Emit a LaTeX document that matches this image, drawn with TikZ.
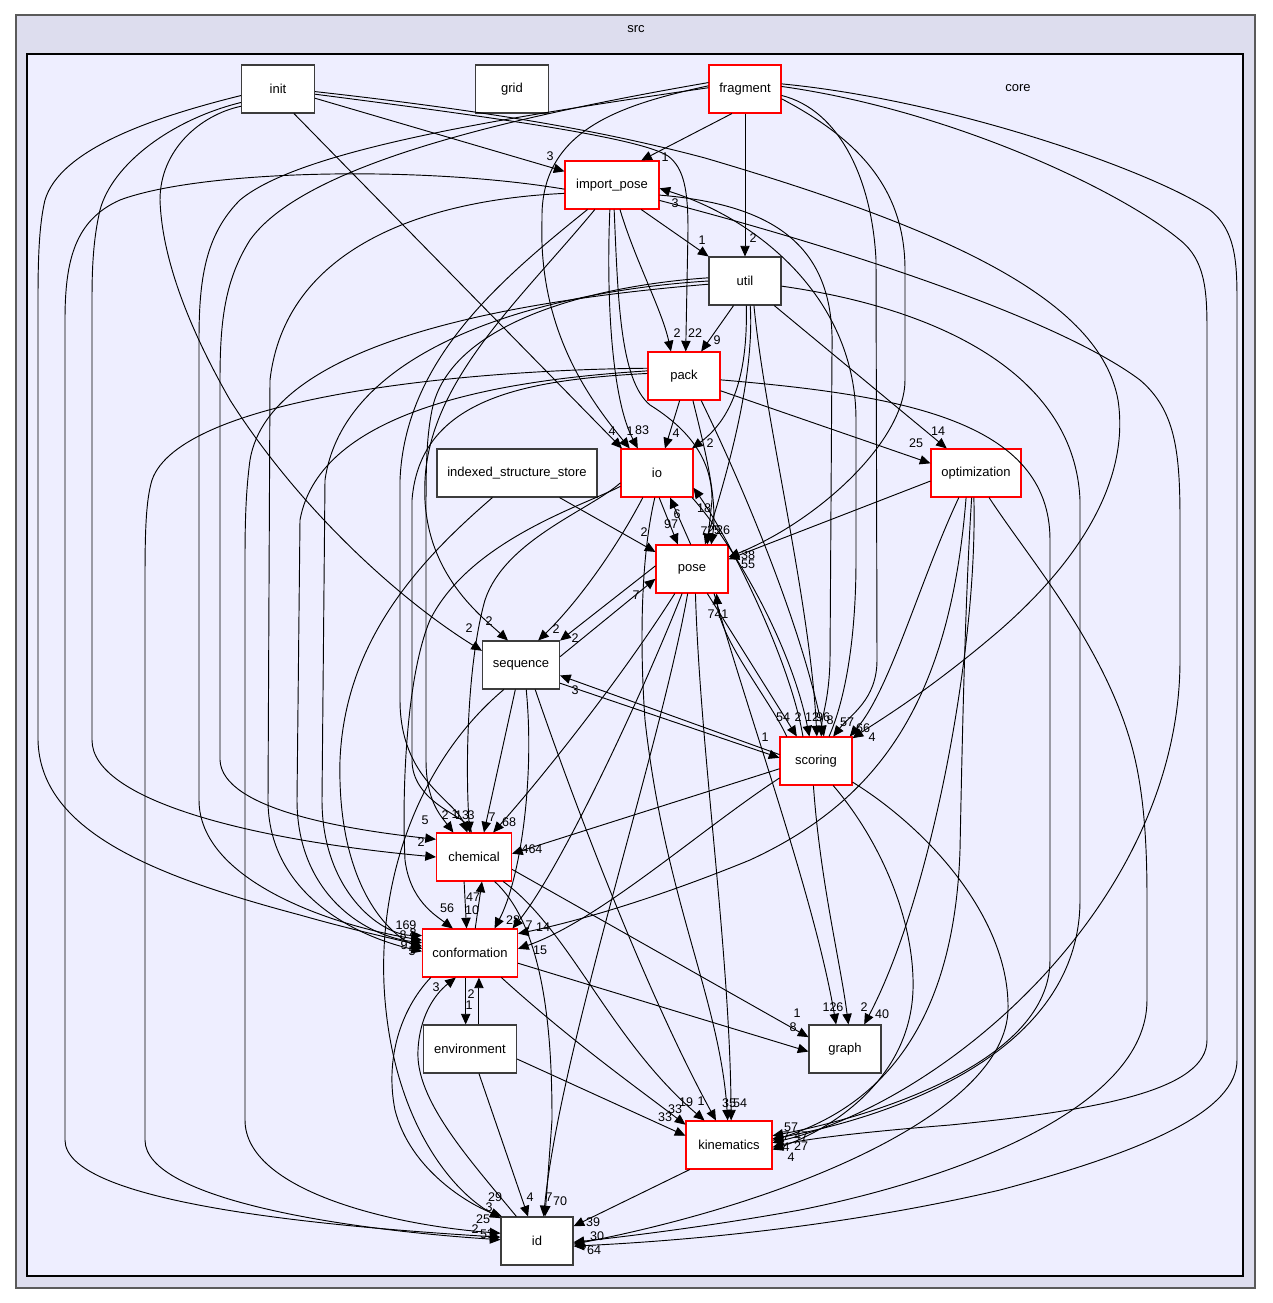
\documentclass[tikz,border=0pt]{standalone}
\usepackage{fontspec}
\setmainfont{Liberation Sans}
\usetikzlibrary{arrows.meta}
\definecolor{srcfill}{RGB}{221,221,238}
\definecolor{corefill}{RGB}{238,238,255}
\definecolor{srcline}{RGB}{90,90,90}
\definecolor{boxline}{RGB}{60,60,60}
\definecolor{boxred}{RGB}{255,0,0}
\tikzset{
    dirbox/.style={draw=boxline, fill=white, line width=0.8pt, rectangle, minimum height=36pt, minimum width=54pt, inner sep=2pt, font=\fontsize{9.75}{11}\selectfont},
    reddirbox/.style={dirbox, draw=boxred, line width=0.8pt},
    dep/.style={-{Triangle[length=8pt,width=7pt]}, line width=0.7pt},
    lbl/.style={inner sep=0pt, font=\fontsize{9.4}{10}\selectfont},
    clusterlabel/.style={inner sep=0pt, font=\fontsize{9.75}{11}\selectfont}
}
\begin{document}
\begin{tikzpicture}[x=0.75pt, y=-0.75pt]
      \useasboundingbox (0,0) rectangle (1272,1303);
      \draw[fill=srcfill, draw=srcline, line width=1.3pt] (16,15) rectangle (1255,1288);
      \draw[fill=corefill, draw=black, line width=0.9pt] (27,54) rectangle (1243,1276);
      \node[clusterlabel] (src) at (636,29) {src};
      \node[clusterlabel] (core) at (1018,88) {core};

      \path
          (278,89) node[dirbox, minimum width=54.75pt] (init) {init}
          (512,89) node[dirbox, minimum width=54.75pt] (grid) {grid}
          (745,89) node[reddirbox] (fragment) {fragment}
          (612,185) node[reddirbox, minimum width=70.5pt] (import-pose) {import\_pose}
          (745,281) node[dirbox] (util) {util}
          (684,376) node[reddirbox] (pack) {pack}
          (517,473) node[dirbox, minimum width=120pt] (indexed-store) {indexed\_structure\_store}
          (657,473) node[reddirbox] (io) {io}
          (976,473) node[reddirbox, minimum width=67.5pt] (optimization) {optimization}
          (692,569) node[reddirbox] (pose) {pose}
          (521,665) node[dirbox, minimum width=57.75pt] (sequence) {sequence}
          (816,761) node[reddirbox] (scoring) {scoring}
          (474,857) node[reddirbox, minimum width=56.25pt] (chemical) {chemical}
          (470,953) node[reddirbox, minimum width=71.25pt] (conformation) {conformation}
          (470,1049) node[dirbox, minimum width=69.75pt] (environment) {environment}
          (845,1049) node[dirbox] (graph) {graph}
          (729,1145) node[reddirbox, minimum width=64.5pt] (kinematics) {kinematics}
          (537,1241) node[dirbox] (id) {id};

      \draw[dep] (init.-14) -- (import-pose.164) node[lbl, at={(550,156)}] {3};
      \draw[dep] (init.-57) -- (io.145) node[lbl, at={(612,431)}] {4};
      \draw[dep] (init.-8) .. controls (500,118) and (640,138) .. (668,156) .. controls (684,168) and (688,190) .. (688,230) -- (pack.86) node[lbl, at={(695,333)}] {22};
      \draw[dep] (init.-4) .. controls (480,110) and (600,130) .. (705,158) .. controls (950,230) and (1100,300) .. (1118,400) .. controls (1130,480) and (1080,560) .. (1000,630) .. controls (930,690) and (880,720) .. (scoring.32) node[lbl, at={(872,737)}] {4};
      \draw[dep] (init.190) .. controls (150,118) and (60,150) .. (45,200) .. controls (39,225) and (38,260) .. (38,300) -- (38,740) .. controls (40,830) and (150,875) .. (300,915) .. controls (360,932) and (400,940) .. (conformation.172) node[lbl, at={(406,925)}] {169};
      \draw[dep] (init.200) .. controls (170,120) and (112,165) .. (100,210) .. controls (93,240) and (92,270) .. (92,300) -- (92,740) .. controls (92,800) and (250,840) .. (chemical.180) node[lbl, at={(421,842)}] {2};
      \draw[dep] (init.205) .. controls (200,115) and (160,150) .. (160,200) .. controls (162,260) and (190,330) .. (230,400) .. controls (300,510) and (400,600) .. (sequence.160) node[lbl, at={(469,628)}] {2};

      \draw[dep] (fragment.-118) -- (import-pose.40) node[lbl, at={(665,157)}] {1};
      \draw[dep] (fragment) -- (util) node[lbl, at={(753,238)}] {2};
      \draw[dep] (fragment.175) .. controls (620,105) and (540,130) .. (542,220) .. controls (538,330) and (590,400) .. (io.138) node[lbl, at={(630,431)}] {1};
      \draw[dep] (fragment.178) .. controls (500,118) and (300,150) .. (240,200) .. controls (205,235) and (199,280) .. (199,340) -- (199,800) .. controls (199,880) and (330,925) .. (conformation.165) node[lbl, at={(413,933)}] {8};
      \draw[dep] (fragment.170) .. controls (480,122) and (300,170) .. (250,240) .. controls (225,280) and (220,320) .. (220,380) -- (220,760) .. controls (222,810) and (350,830) .. (chemical.155) node[lbl, at={(425,820)}] {5};
      \draw[dep] (fragment.8) .. controls (950,100) and (1150,170) .. (1210,210) .. controls (1235,230) and (1237,260) .. (1237,300) -- (1237,1060) .. controls (1237,1110) and (1150,1150) .. (1000,1190) .. controls (850,1225) and (700,1240) .. (id.-8) node[lbl, at={(594,1250)}] {64};
      \draw[dep] (fragment.4) .. controls (950,110) and (1120,190) .. (1180,240) .. controls (1205,260) and (1207,290) .. (1207,330) -- (1207,1040) .. controls (1207,1090) and (1100,1110) .. (950,1125) .. controls (850,1133) and (800,1140) .. (kinematics.-3) node[lbl, at={(791,1157)}] {4};
      \draw[dep] (fragment.-10) .. controls (840,110) and (872,180) .. (876,260) -- (877,660) .. controls (877,700) and (850,715) .. (scoring.55) node[lbl, at={(847,722)}] {57};
      \draw[dep] (fragment.-15) .. controls (860,140) and (905,190) .. (905,270) -- (905,380) .. controls (905,440) and (820,520) .. (pose.18) node[lbl, at={(748,564)}] {55};

      \draw[dep] (import-pose.-40) -- (util.146) node[lbl, at={(702,240)}] {1};
      \draw[dep] (import-pose.-72) .. controls (635,260) and (662,310) .. (pack.118) node[lbl, at={(677,333)}] {2};
      \draw[dep] (import-pose.-95) .. controls (606,300) and (612,400) .. (io.128) node[lbl, at={(642,430)}] {83};
      \draw[dep] (import-pose.-85) .. controls (618,300) and (620,380) .. (650,405) .. controls (690,430) and (712,460) .. (712,500) -- (pose.58) node[lbl, at={(704,531)}] {7};
      \draw[dep] (import-pose.-12) .. controls (780,205) and (835,250) .. (832,350) -- (830,660) .. controls (829,700) and (822,715) .. (scoring.78) node[lbl, at={(812,717)}] {12};
      \draw[dep] (import-pose.-18) .. controls (850,250) and (1060,320) .. (1140,380) .. controls (1175,410) and (1180,450) .. (1180,520) -- (1180,660) .. controls (1180,900) and (950,1100) .. (kinematics.3) node[lbl, at={(786,1136)}] {7};
      \draw[dep] (import-pose.185) .. controls (420,165) and (200,170) .. (120,200) .. controls (75,220) and (65,260) .. (65,320) -- (65,1140) .. controls (65,1200) and (300,1225) .. (id.174) node[lbl, at={(483,1219)}] {25};
      \draw[dep] (import-pose.-125) .. controls (520,300) and (430,380) .. (425,480) .. controls (420,570) and (480,615) .. (sequence.118) node[lbl, at={(489,621)}] {2};
      \draw[dep] (import-pose.-135) .. controls (500,280) and (405,360) .. (400,480) -- (400,700) .. controls (400,780) and (455,800) .. (chemical.105) node[lbl, at={(462,815)}] {13};
      \draw[dep] (import-pose.190) .. controls (420,200) and (285,250) .. (270,380) -- (268,800) .. controls (268,890) and (350,935) .. (conformation.178) node[lbl, at={(404,945)}] {9};

      \draw[dep] (util.-115) -- (pack.55) node[lbl, at={(717,340)}] {9};
      \draw[dep] (util.-87) .. controls (748,380) and (730,420) .. (io.35) node[lbl, at={(710,443)}] {2};
      \draw[dep] (util.-40) -- (optimization.140) node[lbl, at={(938,431)}] {14};
      \draw[dep] (util.-78) .. controls (755,380) and (725,480) .. (pose.62) node[lbl, at={(714,530)}] {25};
      \draw[dep] (util.-70) .. controls (765,420) and (810,600) .. (scoring.88) node[lbl, at={(823,717)}] {96};
      \draw[dep] (util.175) .. controls (600,285) and (450,320) .. (432,410) .. controls (426,440) and (426,470) .. (426,520) -- (426,760) .. controls (426,800) and (440,815) .. (chemical.130) node[lbl, at={(445,815)}] {2};
      \draw[dep] (util.180) .. controls (560,290) and (345,340) .. (325,480) -- (322,800) .. controls (322,890) and (380,935) .. (conformation.160) node[lbl, at={(412,951)}] {5};
      \draw[dep] (util.185) .. controls (520,300) and (270,340) .. (250,460) .. controls (246,490) and (245,520) .. (245,560) -- (245,1120) .. controls (245,1190) and (390,1225) .. (id.168) node[lbl, at={(475,1229)}] {2};
      \draw[dep] (util.-8) .. controls (950,310) and (1075,380) .. (1080,500) -- (1080,900) .. controls (1080,1050) and (900,1115) .. (kinematics.8) node[lbl, at={(791,1127)}] {57};

      \draw[dep] (pack.-100) -- (io.72) node[lbl, at={(676,433)}] {4};
      \draw[dep] (pack.-22) -- (optimization.168) node[lbl, at={(916,443)}] {25};
      \draw[dep] (pack.-70) .. controls (705,450) and (718,500) .. (pose.52) node[lbl, at={(723,530)}] {26};
      \draw[dep] (pack.-55) .. controls (740,480) and (800,620) .. (scoring.72) node[lbl, at={(830,720)}] {8};
      \draw[dep] (pack.176) .. controls (520,380) and (420,400) .. (412,500) -- (412,760) .. controls (412,800) and (460,815) .. (chemical.95) node[lbl, at={(471,815)}] {3};
      \draw[dep] (pack.172) .. controls (500,380) and (320,410) .. (300,520) -- (297,800) .. controls (297,890) and (360,935) .. (conformation.168) node[lbl, at={(403,935)}] {8};
      \draw[dep] (pack.168) .. controls (450,370) and (180,400) .. (152,480) .. controls (146,500) and (145,530) .. (145,580) -- (145,1140) .. controls (145,1200) and (350,1230) .. (id.178) node[lbl, at={(487,1234)}] {53};
      \draw[dep] (pack.-6) .. controls (900,395) and (1050,420) .. (1050,540) -- (1050,960) .. controls (1050,1060) and (880,1115) .. (kinematics.12) node[lbl, at={(801,1146)}] {27};

      \draw[dep] (indexed-store.-30) -- (pose.155) node[lbl, at={(644,532)}] {2};
      \draw[dep] (indexed-store.-135) .. controls (420,560) and (345,640) .. (340,760) .. controls (337,880) and (385,932) .. (conformation.175) node[lbl, at={(414,941)}] {9};

      \draw[dep] (io.-85) -- (pose.120) node[lbl, at={(671,524)}] {97};
      \draw[dep] (io.-35) .. controls (730,540) and (790,640) .. (scoring.105) node[lbl, at={(798,717)}] {2};
      \draw[dep] (io.-120) .. controls (610,560) and (570,610) .. (sequence.55) node[lbl, at={(556,629)}] {2};
      \draw[dep] (io.195) .. controls (590,510) and (505,540) .. (485,600) .. controls (468,660) and (465,760) .. (chemical.100) node[lbl, at={(455,814)}] {1};
      \draw[dep] (io.200) .. controls (585,505) and (470,540) .. (430,620) .. controls (405,680) and (402,800) .. (405,860) .. controls (410,900) and (435,915) .. (conformation.125) node[lbl, at={(447,908)}] {56};
      \draw[dep] (io.-95) .. controls (640,560) and (640,650) .. (645,720) .. controls (665,900) and (720,1000) .. (kinematics.93) node[lbl, at={(729,1103)}] {35};

      \draw[dep] (optimization.190) -- (pose.15) node[lbl, at={(748,555)}] {38};
      \draw[dep] (optimization.-125) .. controls (920,580) and (890,690) .. (scoring.36) node[lbl, at={(863,728)}] {66};
      \draw[dep] (optimization.-112) .. controls (950,700) and (880,800) .. (750,860) .. controls (640,905) and (560,925) .. (conformation.22) node[lbl, at={(543,927)}] {14};
      \draw[dep] (optimization.-95) .. controls (978,650) and (930,900) .. (graph.52) node[lbl, at={(882,1014)}] {40};
      \draw[dep] (optimization.-100) .. controls (965,600) and (962,750) .. (960,850) .. controls (955,1000) and (900,1100) .. (kinematics.6) node[lbl, at={(801,1136)}] {47};
      \draw[dep] (optimization.-62) .. controls (1030,560) and (1100,640) .. (1130,740) .. controls (1145,790) and (1147,850) .. (1147,900) -- (1147,1000) .. controls (1147,1110) and (950,1180) .. (800,1210) .. controls (700,1228) and (620,1237) .. (id.-2) node[lbl, at={(597,1236)}] {30};

      \draw[dep] (pose.93) -- (io.-62) node[lbl, at={(677,514)}] {6};
      \draw[dep] (pose.175) -- (sequence.32) node[lbl, at={(575,638)}] {2};
      \draw[dep] (pose.-58) -- (scoring.128) node[lbl, at={(783,717)}] {54};
      \draw[dep] (pose.-125) .. controls (620,680) and (540,780) .. (chemical.52) node[lbl, at={(509,822)}] {68};
      \draw[dep] (pose.-112) .. controls (640,700) and (560,870) .. (conformation.30) node[lbl, at={(529,925)}] {7};
      \draw[dep] (pose.-82) .. controls (700,750) and (730,950) .. (kinematics.85) node[lbl, at={(740,1103)}] {54};
      \draw[dep] (pose.-48) .. controls (750,720) and (815,900) .. (graph.110) node[lbl, at={(833,1007)}] {126};
      \draw[dep] (pose.-100) .. controls (660,750) and (560,1050) .. (id.75) node[lbl, at={(549,1197)}] {7};

      \draw[dep] (sequence.12) -- (pose.195) node[lbl, at={(636,595)}] {7};
      \draw[dep] (sequence.-25) -- (scoring.175) node[lbl, at={(765,737)}] {1};
      \draw[dep] (sequence.-103) -- (chemical.68) node[lbl, at={(492,817)}] {7};
      \draw[dep] (sequence.-78) .. controls (535,780) and (520,880) .. (conformation.45) node[lbl, at={(513,920)}] {28};
      \draw[dep] (sequence.-60) .. controls (580,820) and (650,1000) .. (kinematics.118) node[lbl, at={(701,1101)}] {1};
      \draw[dep] (sequence.-125) .. controls (420,760) and (375,880) .. (385,1000) .. controls (395,1120) and (450,1190) .. (id.148) node[lbl, at={(495,1197)}] {29};

      \draw[dep] (scoring.62) .. controls (845,700) and (856,640) .. (856,560) -- (856,420) .. controls (856,300) and (760,220) .. (import-pose.-4) node[lbl, at={(675,203)}] {3};
      \draw[dep] (scoring.118) .. controls (790,660) and (730,540) .. (io.-22) node[lbl, at={(704,508)}] {18};
      \draw[dep] (scoring.170) -- (sequence.-15) node[lbl, at={(575,690)}] {3};
      \draw[dep] (scoring.140) .. controls (770,700) and (720,640) .. (pose.-45) node[lbl, at={(718,614)}] {741};
      \draw[dep] (scoring.192) -- (chemical.5) node[lbl, at={(532,849)}] {464};
      \draw[dep] (scoring.205) .. controls (700,830) and (600,920) .. (conformation.5) node[lbl, at={(540,950)}] {15};
      \draw[dep] (scoring.-96) .. controls (820,880) and (840,960) .. (graph.82) node[lbl, at={(864,1007)}] {2};
      \draw[dep] (scoring.-55) .. controls (880,840) and (915,920) .. (913,990) .. controls (910,1080) and (830,1130) .. (kinematics.-6) node[lbl, at={(786,1147)}] {4};
      \draw[dep] (scoring.-30) .. controls (930,830) and (1010,920) .. (1008,1010) .. controls (1005,1110) and (800,1200) .. (id.-5) node[lbl, at={(583,1245)}] {6};

      \draw[dep] (chemical.-112) -- (conformation.98) node[lbl, at={(472,910)}] {10};
      \draw[dep] (chemical.-18) -- (graph.162) node[lbl, at={(797,1013)}] {1};
      \draw[dep] (chemical.-40) .. controls (570,930) and (610,1040) .. (kinematics.135) node[lbl, at={(686,1102)}] {19};
      \draw[dep] (chemical.-50) .. controls (548,930) and (552,1050) .. (552,1120) -- (id.72) node[lbl, at={(560,1201)}] {70};

      \draw[dep] (conformation.78) -- (chemical.-72) node[lbl, at={(473,897)}] {47};
      \draw[dep] (conformation.-100) -- (environment.100) node[lbl, at={(469,1005)}] {1};
      \draw[dep] (conformation.-12) -- (graph.184) node[lbl, at={(793,1027)}] {8};
      \draw[dep] (conformation.-38) .. controls (570,1040) and (640,1090) .. (kinematics.155) node[lbl, at={(675,1109)}] {33};
      \draw[dep] (conformation.-148) .. controls (400,1010) and (385,1060) .. (395,1110) .. controls (410,1170) and (470,1205) .. (id.145) node[lbl, at={(489,1207)}] {3};

      \draw[dep] (environment.70) -- (conformation.-70) node[lbl, at={(471,994)}] {2};
      \draw[dep] (environment.-12) -- (kinematics.168) node[lbl, at={(665,1117)}] {33};
      \draw[dep] (environment.-70) -- (id.110) node[lbl, at={(530,1197)}] {4};

      \draw[dep] (kinematics.-148) -- (id.22) node[lbl, at={(593,1222)}] {39};

      \draw[dep] (id.130) .. controls (470,1160) and (415,1100) .. (418,1050) .. controls (420,1010) and (440,990) .. (conformation.-120) node[lbl, at={(436,987)}] {3};
\end{tikzpicture}
\end{document}
